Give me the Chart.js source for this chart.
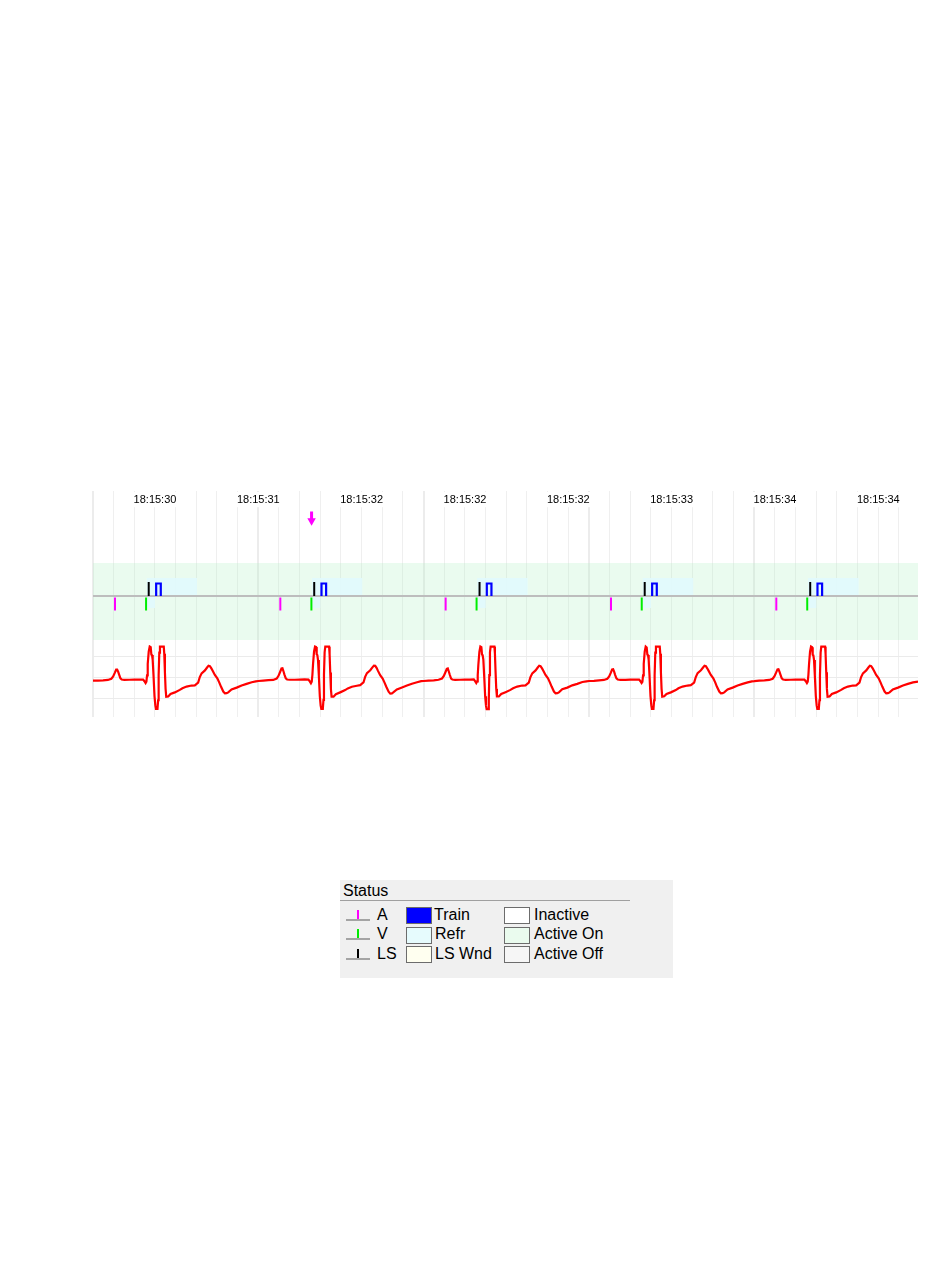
<!DOCTYPE html>
<html>
<head>
<meta charset="utf-8">
<script src="https://cdn.jsdelivr.net/npm/chart.js@4.4.0/dist/chart.umd.min.js"></script>
<style>
  html, body { margin: 0; padding: 0; background: #fff; width: 950px; height: 1267px; overflow: hidden; }
  #trace { position: absolute; left: 88px; top: 486px; }
  .status { position: absolute; left: 340px; top: 880px; width: 333px; height: 98px; background: #f0f0f0;
            font-family: 'Liberation Sans', Arial, sans-serif; font-size: 16px; color: #000; }
  .status div { position: absolute; }
  .txt { line-height: 18px; white-space: nowrap; }
  .rule { left: 0; top: 20px; width: 290px; height: 1px; background: #a0a0a0; }
  .base { left: 6px; width: 24px; height: 2px; background: #a4a4a4; }
  .tick { left: 17px; width: 2px; height: 9px; }
  .sw { width: 26px; height: 17px; box-sizing: border-box; border: 1px solid #6c6c6c; }
</style>
</head>
<body>
<canvas id="trace" width="835" height="236"></canvas>

<div class="status">
  <div class="txt" style="left:3px;top:2px;">Status</div>
  <div class="rule"></div>

  <div class="base" style="top:39px;"></div><div class="tick" style="top:30px;background:#ff00ff;"></div>
  <div class="base" style="top:58px;"></div><div class="tick" style="top:49px;background:#00ee00;"></div>
  <div class="base" style="top:78px;"></div><div class="tick" style="top:69px;background:#000;"></div>
  <div class="txt" style="left:37px;top:26px;">A</div>
  <div class="txt" style="left:37px;top:45px;">V</div>
  <div class="txt" style="left:37px;top:65px;">LS</div>

  <div class="sw" style="left:66px;top:27px;background:#0000ff;"></div>
  <div class="sw" style="left:66px;top:47px;background:#e6fbfd;"></div>
  <div class="sw" style="left:66px;top:66px;background:#fffff0;"></div>
  <div class="txt" style="left:94px;top:26px;">Train</div>
  <div class="txt" style="left:95px;top:45px;">Refr</div>
  <div class="txt" style="left:95px;top:65px;">LS Wnd</div>

  <div class="sw" style="left:164px;top:27px;background:#ffffff;"></div>
  <div class="sw" style="left:164px;top:47px;background:#eafbee;"></div>
  <div class="sw" style="left:164px;top:66px;background:#f6f6f6;"></div>
  <div class="txt" style="left:194px;top:26px;">Inactive</div>
  <div class="txt" style="left:194px;top:45px;">Active On</div>
  <div class="txt" style="left:194px;top:65px;">Active Off</div>
</div>

<script>
// ---- recording window (ms) ----
const windowStart = 0;
const windowEnd = 4990;

// ---- time stamps printed along the top ----
const timeLabelAt = [375, 1000, 1625, 2250, 2875, 3500, 4125, 4750];
const timeLabels = ['18:15:30', '18:15:31', '18:15:32', '18:15:32', '18:15:32', '18:15:33', '18:15:34', '18:15:34'];

// ---- sensing / stimulation events (ms) ----
const atrialSense = [133, 1133, 2133, 3133, 4133];
const ventSense   = [321, 1321, 2320, 3319, 4320];
const lsEvents    = [337, 1338, 2338, 3337, 4338];
const trainStarts = [382, 1382, 2382, 3382, 4382];
const trainEnds   = [410, 1410, 2410, 3410, 4410];
const refrStarts  = [323, 1323, 2323, 3323, 4323];
const refrEnds    = [630, 1630, 2630, 3632, 4632];
const blankEnds   = [376, 1376, 2376, 3376, 4376];
const activeOnSpans = [[0, 4990]];
const userMarks   = [1322];

// ---- surface ECG, [ms, mV] ----
const ecgBeat1 = [[0,-0.15],[30,-0.15],[61,-0.14],[90,-0.12],[111,-0.06],[122,0.05],[131,0.21],[140,0.38],[146,0.38],[152,0.28],[158,0.14],[166,-0.04],[174,-0.10],[190,-0.12],[220,-0.11],[250,-0.10],[280,-0.10],[303,-0.10],[311,-0.18],[318,-0.27],[323,-0.20],[327,0.10],[331,0.65],[337,1.25],[343,1.49],[349,1.46],[353,1.10],[357,1.08],[361,0.85],[366,0.10],[372,-0.90],[377,-1.35],[381,-1.52],[390,-1.52],[394,-1.10],[397,0.10],[401,1.20],[405,1.49],[428,1.49],[431,1.15],[435,0.25],[439,-0.55],[443,-0.93],[455,-0.92],[469,-0.80],[495,-0.72],[525,-0.60],[541,-0.52],[566,-0.44],[596,-0.39],[616,-0.38],[636,-0.25],[646,0.02],[657,0.20],[677,0.34],[690,0.48],[699,0.57],[707,0.55],[716,0.44],[723,0.34],[737,0.12],[752,-0.04],[764,-0.25],[774,-0.44],[788,-0.68],[798,-0.77],[808,-0.76],[818,-0.72],[838,-0.58],[869,-0.49],[899,-0.39],[929,-0.31],[960,-0.23],[985,-0.19]];
const ecgBeat2 = [[1000,-0.17],[1030,-0.15],[1061,-0.13],[1090,-0.12],[1111,-0.05],[1122,0.08],[1131,0.25],[1140,0.43],[1146,0.44],[1152,0.30],[1158,0.14],[1166,-0.04],[1174,-0.10],[1190,-0.11],[1220,-0.11],[1250,-0.10],[1280,-0.09],[1303,-0.10],[1311,-0.19],[1318,-0.28],[1323,-0.20],[1327,0.12],[1331,0.66],[1337,1.26],[1343,1.49],[1349,1.47],[1353,1.12],[1357,1.08],[1361,0.84],[1366,0.08],[1372,-0.92],[1377,-1.36],[1381,-1.52],[1390,-1.52],[1394,-1.08],[1397,0.12],[1401,1.22],[1405,1.49],[1428,1.49],[1431,1.14],[1435,0.24],[1439,-0.56],[1443,-0.93],[1455,-0.93],[1469,-0.81],[1495,-0.72],[1525,-0.61],[1541,-0.53],[1566,-0.45],[1596,-0.40],[1616,-0.37],[1636,-0.24],[1646,0.03],[1657,0.21],[1677,0.35],[1690,0.49],[1699,0.57],[1707,0.56],[1716,0.45],[1723,0.33],[1737,0.11],[1752,-0.05],[1764,-0.26],[1774,-0.45],[1788,-0.69],[1798,-0.78],[1808,-0.77],[1818,-0.71],[1838,-0.58],[1869,-0.48],[1899,-0.39],[1929,-0.30],[1960,-0.23],[1985,-0.18]];
const ecgBeat3 = [[2000,-0.17],[2030,-0.15],[2061,-0.14],[2090,-0.11],[2111,-0.05],[2122,0.07],[2131,0.24],[2140,0.42],[2146,0.44],[2152,0.29],[2158,0.13],[2166,-0.05],[2174,-0.10],[2190,-0.12],[2220,-0.11],[2250,-0.10],[2280,-0.10],[2303,-0.09],[2311,-0.18],[2318,-0.27],[2323,-0.19],[2327,0.11],[2331,0.64],[2337,1.24],[2343,1.49],[2349,1.46],[2353,1.11],[2357,1.07],[2361,0.86],[2366,0.09],[2372,-0.91],[2377,-1.36],[2381,-1.53],[2390,-1.53],[2394,-1.09],[2397,0.11],[2401,1.21],[2405,1.49],[2428,1.49],[2431,1.16],[2435,0.26],[2439,-0.54],[2443,-0.92],[2455,-0.92],[2469,-0.80],[2495,-0.71],[2525,-0.60],[2541,-0.52],[2566,-0.44],[2596,-0.39],[2616,-0.38],[2636,-0.25],[2646,0.02],[2657,0.20],[2677,0.34],[2690,0.48],[2699,0.57],[2707,0.55],[2716,0.44],[2723,0.34],[2737,0.12],[2752,-0.04],[2764,-0.25],[2774,-0.44],[2788,-0.68],[2798,-0.77],[2808,-0.76],[2818,-0.72],[2838,-0.57],[2869,-0.49],[2899,-0.38],[2929,-0.31],[2960,-0.22],[2985,-0.19]];
const ecgBeat4 = [[3000,-0.17],[3030,-0.16],[3061,-0.14],[3090,-0.12],[3111,-0.06],[3122,0.05],[3131,0.21],[3140,0.39],[3146,0.40],[3152,0.28],[3158,0.13],[3166,-0.04],[3174,-0.10],[3190,-0.12],[3220,-0.12],[3250,-0.10],[3280,-0.10],[3303,-0.10],[3311,-0.18],[3318,-0.27],[3323,-0.21],[3327,0.10],[3331,0.65],[3337,1.25],[3343,1.49],[3349,1.45],[3353,1.10],[3357,1.08],[3361,0.85],[3366,0.10],[3372,-0.90],[3377,-1.35],[3381,-1.52],[3390,-1.52],[3394,-1.10],[3397,0.10],[3401,1.20],[3405,1.49],[3428,1.49],[3431,1.15],[3435,0.25],[3439,-0.55],[3443,-0.93],[3455,-0.91],[3469,-0.80],[3495,-0.72],[3525,-0.61],[3541,-0.52],[3566,-0.44],[3596,-0.39],[3616,-0.37],[3636,-0.25],[3646,0.02],[3657,0.21],[3677,0.35],[3690,0.48],[3699,0.57],[3707,0.55],[3716,0.43],[3723,0.33],[3737,0.12],[3752,-0.04],[3764,-0.25],[3774,-0.45],[3788,-0.68],[3798,-0.77],[3808,-0.76],[3818,-0.72],[3838,-0.58],[3869,-0.49],[3899,-0.39],[3929,-0.31],[3960,-0.24],[3985,-0.19]];
const ecgBeat5 = [[4000,-0.18],[4030,-0.15],[4061,-0.14],[4090,-0.12],[4111,-0.06],[4122,0.06],[4131,0.22],[4140,0.39],[4146,0.40],[4152,0.28],[4158,0.14],[4166,-0.04],[4174,-0.10],[4190,-0.12],[4220,-0.11],[4250,-0.10],[4280,-0.10],[4303,-0.10],[4311,-0.18],[4318,-0.27],[4323,-0.20],[4327,0.11],[4331,0.65],[4337,1.25],[4343,1.49],[4349,1.46],[4353,1.10],[4357,1.07],[4361,0.85],[4366,0.10],[4372,-0.90],[4377,-1.35],[4381,-1.52],[4390,-1.52],[4394,-1.10],[4397,0.10],[4401,1.20],[4405,1.49],[4428,1.49],[4431,1.15],[4435,0.25],[4439,-0.55],[4443,-0.93],[4455,-0.92],[4469,-0.80],[4495,-0.72],[4525,-0.60],[4541,-0.52],[4566,-0.44],[4596,-0.39],[4616,-0.38],[4636,-0.25],[4646,0.02],[4657,0.20],[4677,0.34],[4690,0.48],[4699,0.57],[4707,0.55],[4716,0.44],[4723,0.34],[4737,0.12],[4752,-0.04],[4764,-0.25],[4774,-0.44],[4788,-0.68],[4798,-0.77],[4808,-0.76],[4818,-0.72],[4838,-0.58],[4869,-0.49],[4899,-0.39],[4929,-0.31],[4960,-0.24],[4990,-0.20]];

// ECG grid levels (mV)
const ecgGridLevels = [-1, 0, 1];

// ---- drawing levels of the status strip (px above/below its baseline) ----
const LEVEL = {
  bandTop: 33, bandBottom: -44,
  refrTop: 18, blankBottom: -12,
  senseMid: -8, senseHalf: 6.5,
  lsMid: 7, lsHalf: 7,
  trainTop: 12.5,
  markShaftTop: 84.5, markShaftBottom: 76.5, markHead: 75.2
};

const ecgPoints = [].concat(ecgBeat1, ecgBeat2, ecgBeat3, ecgBeat4, ecgBeat5).map(([t, v]) => ({ x: t, y: v }));

function boxes(starts, ends, level) {
  const pts = [];
  starts.forEach((s, i) => {
    pts.push({ x: s, y: level }, { x: ends[i], y: level }, { x: ends[i], y: null });
  });
  return pts;
}
function pulses(starts, ends, level) {
  const pts = [];
  starts.forEach((s, i) => {
    pts.push({ x: s, y: 0 }, { x: s, y: level }, { x: ends[i], y: level }, { x: ends[i], y: 0 }, { x: ends[i], y: null });
  });
  return pts;
}
const atLevel = (times, level) => times.map(t => ({ x: t, y: level }));

const statusAxis = { xAxisID: 'x', yAxisID: 'yStat', pointRadius: 0, tension: 0 };

new Chart(document.getElementById('trace'), {
  type: 'line',
  data: {
    datasets: [
      // surface ECG
      { data: ecgPoints, xAxisID: 'x', yAxisID: 'yEcg', borderColor: '#ff0000', borderWidth: 2.2,
        pointRadius: 0, tension: 0, order: 1 },
      // user mark arrow
      { ...statusAxis, data: userMarks.flatMap(t => [{ x: t, y: LEVEL.markShaftTop }, { x: t, y: LEVEL.markShaftBottom }, { x: t, y: null }]),
        borderColor: '#ff00ff', borderWidth: 3, borderCapStyle: 'butt', order: 1 },
      { ...statusAxis, data: atLevel(userMarks, LEVEL.markHead), showLine: false,
        pointStyle: 'triangle', rotation: 180, pointRadius: 4.9, pointBackgroundColor: '#ff00ff',
        pointBorderWidth: 0, order: 1 },
      // sensing markers
      { ...statusAxis, data: atLevel(atrialSense, LEVEL.senseMid), showLine: false, pointStyle: 'line', rotation: 90,
        pointRadius: LEVEL.senseHalf, pointBorderColor: '#ff00ff', pointBorderWidth: 2, order: 3 },
      { ...statusAxis, data: atLevel(ventSense, LEVEL.senseMid), showLine: false, pointStyle: 'line', rotation: 90,
        pointRadius: LEVEL.senseHalf, pointBorderColor: '#00ee00', pointBorderWidth: 2, order: 3 },
      { ...statusAxis, data: atLevel(lsEvents, LEVEL.lsMid), showLine: false, pointStyle: 'line', rotation: 90,
        pointRadius: LEVEL.lsHalf, pointBorderColor: '#000000', pointBorderWidth: 2, order: 3 },
      // stimulation train
      { ...statusAxis, data: pulses(trainStarts, trainEnds, LEVEL.trainTop), borderColor: '#0000ff',
        borderWidth: 2.2, borderJoinStyle: 'miter', order: 3 },
      // status baseline
      { ...statusAxis, data: [{ x: windowStart, y: 0 }, { x: windowEnd, y: 0 }], borderColor: '#bdbdbd',
        borderWidth: 2, order: 4 },
      // refractory windows
      { ...statusAxis, data: boxes(refrStarts, refrEnds, LEVEL.refrTop), borderWidth: 0,
        fill: { value: 0 }, backgroundColor: 'rgba(226,250,255,0.85)', order: 6 },
      { ...statusAxis, data: boxes(refrStarts, blankEnds, LEVEL.blankBottom), borderWidth: 0,
        fill: { value: 0 }, backgroundColor: 'rgba(226,250,255,0.85)', order: 6 },
      // active-on band
      { ...statusAxis, data: activeOnSpans.flatMap(([s, e]) => [{ x: s, y: LEVEL.bandTop }, { x: e, y: LEVEL.bandTop }, { x: e, y: null }]),
        borderWidth: 0, fill: { value: LEVEL.bandBottom }, backgroundColor: 'rgba(175,240,195,0.26)', order: 8 }
    ]
  },
  options: {
    responsive: false,
    animation: false,
    events: [],
    layout: { autoPadding: false, padding: { left: 5, right: 5, top: 5, bottom: 5 } },
    plugins: { legend: { display: false }, tooltip: { enabled: false } },
    scales: {
      x: {
        type: 'linear', axis: 'x', position: 'bottom', min: windowStart, max: windowEnd,
        border: { display: false },
        ticks: { display: false },
        grid: {
          drawTicks: false,
          color: c => (c.tick && c.tick.value % 1000 === 0) ? '#ececec' : '#efefef',
          lineWidth: c => (c.tick && c.tick.value % 1000 === 0) ? 2 : 1
        },
        afterBuildTicks: a => {
          const t = [];
          for (let v = windowStart; v <= windowEnd; v += 125) t.push({ value: v });
          a.ticks = t;
        }
      },
      x2: {
        type: 'linear', axis: 'x', position: { yStat: 105 }, min: windowStart, max: windowEnd,
        border: { display: false },
        grid: { display: false, drawTicks: false },
        afterBuildTicks: a => { a.ticks = timeLabelAt.map(v => ({ value: v })); },
        ticks: {
          autoSkip: false, maxRotation: 0, padding: 2,
          color: '#000',
          font: { family: "'Liberation Sans', Arial, sans-serif", size: 11 },
          callback: (v, i) => timeLabels[i],
          showLabelBackdrop: true, backdropColor: '#ffffff',
          backdropPadding: { top: 1, bottom: 1, left: 2, right: 2 }
        }
      },
      yStat: { type: 'linear', axis: 'y', min: -121, max: 105, display: false },
      yEcg: {
        type: 'linear', axis: 'y', min: -1.91, max: 9.01,
        border: { display: false },
        ticks: { display: false },
        grid: { drawTicks: false, color: '#ebebeb', lineWidth: 1 },
        afterBuildTicks: a => { a.ticks = ecgGridLevels.map(v => ({ value: v })); }
      }
    }
  }
});
</script>
</body>
</html>
